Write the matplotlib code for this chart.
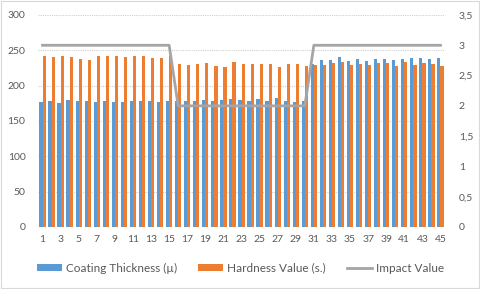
import matplotlib
matplotlib.use("Agg")
import matplotlib.pyplot as plt
import numpy as np
from matplotlib.patches import Rectangle
from matplotlib.ticker import FuncFormatter

plt.rcParams['font.family'] = ['Lato', 'DejaVu Sans']

# sample numbers 1..45
samples = list(range(1, 46))

coating = [177.5, 178.4, 176, 179.8, 178.9, 178.9, 177.5, 178.9, 177.5, 176.5,
           178.4, 178.4, 178.4, 177.5, 178.4,
           178, 179, 179, 180, 178.5, 180, 181, 180, 179, 181,
           178.5, 183, 179, 177, 178.5,
           230, 236.5, 236.5, 240, 235, 237.5, 235.5, 237.5, 237.5, 236.5,
           237.5, 239.5, 239.5, 237.5, 239.5]

hardness = [242.5, 240.5, 241.5, 240, 238, 237, 242.5, 241.5, 241.5, 240.5,
            242, 241.5, 239.5, 238.5, 241.5,
            230, 229.5, 231, 232.5, 228.5, 227, 233, 230, 231, 230,
            230, 227, 231, 230, 228.5,
            229, 229, 232, 233, 229, 230.5, 229, 232, 232, 228,
            233, 229, 232, 230.5, 228]

impact = [3] * 15 + [2] * 15 + [3] * 15

blue = '#5B9BD5'
orange = '#ED7D31'
gray = '#A5A5A5'
txt = '#595959'

fig = plt.figure(figsize=(4.81, 2.89), dpi=100)
fig.patches.append(Rectangle((0.002, 0.002), 0.994, 0.994, transform=fig.transFigure,
                             fill=False, edgecolor='#d9d9d9', linewidth=0.8))

ax = fig.add_axes([38 / 481, 62 / 289, 407 / 481, 212 / 289])
x = np.arange(len(samples))
w = 0.35
b1 = ax.bar(x - w / 2, coating, width=w, color=blue, label='Coating Thickness (µ)', zorder=2)
b2 = ax.bar(x + w / 2, hardness, width=w, color=orange, label='Hardness Value (s.)', zorder=2)

ax.set_xlim(-0.5, len(samples) - 0.5)
ax.set_ylim(0, 300)
ax.set_yticks(range(0, 301, 50))
ax.set_xticks(x[::2])
ax.set_xticklabels([str(s) for s in samples[::2]])
ax.grid(axis='y', color='#d0d0d0', linestyle=(0, (1, 1)), linewidth=0.8, zorder=0)
for s in ax.spines.values():
    s.set_visible(False)
ax.tick_params(length=0, colors=txt, labelsize=7.5)
ax.tick_params(axis='y', pad=9)
ax.tick_params(axis='x', pad=6)

ax2 = ax.twinx()
l1, = ax2.plot(x, impact, color=gray, linewidth=2.0, label='Impact Value', zorder=3)
ax2.set_ylim(0, 3.5)
ax2.set_yticks(np.arange(0, 3.51, 0.5))
ax2.yaxis.set_major_formatter(FuncFormatter(lambda v, p: ('%g' % v).replace('.', ',')))
for s in ax2.spines.values():
    s.set_visible(False)
ax2.tick_params(length=0, colors=txt, labelsize=7.5, pad=10)

fig.legend(handles=[b1, b2, l1], loc='center', bbox_to_anchor=(0.5, 21 / 289), ncol=3,
           frameon=False, fontsize=8.5, labelcolor=txt, handlelength=2.1, handleheight=0.5,
           columnspacing=1.8, handletextpad=0.35)

fig.savefig('out.png', dpi=100)
